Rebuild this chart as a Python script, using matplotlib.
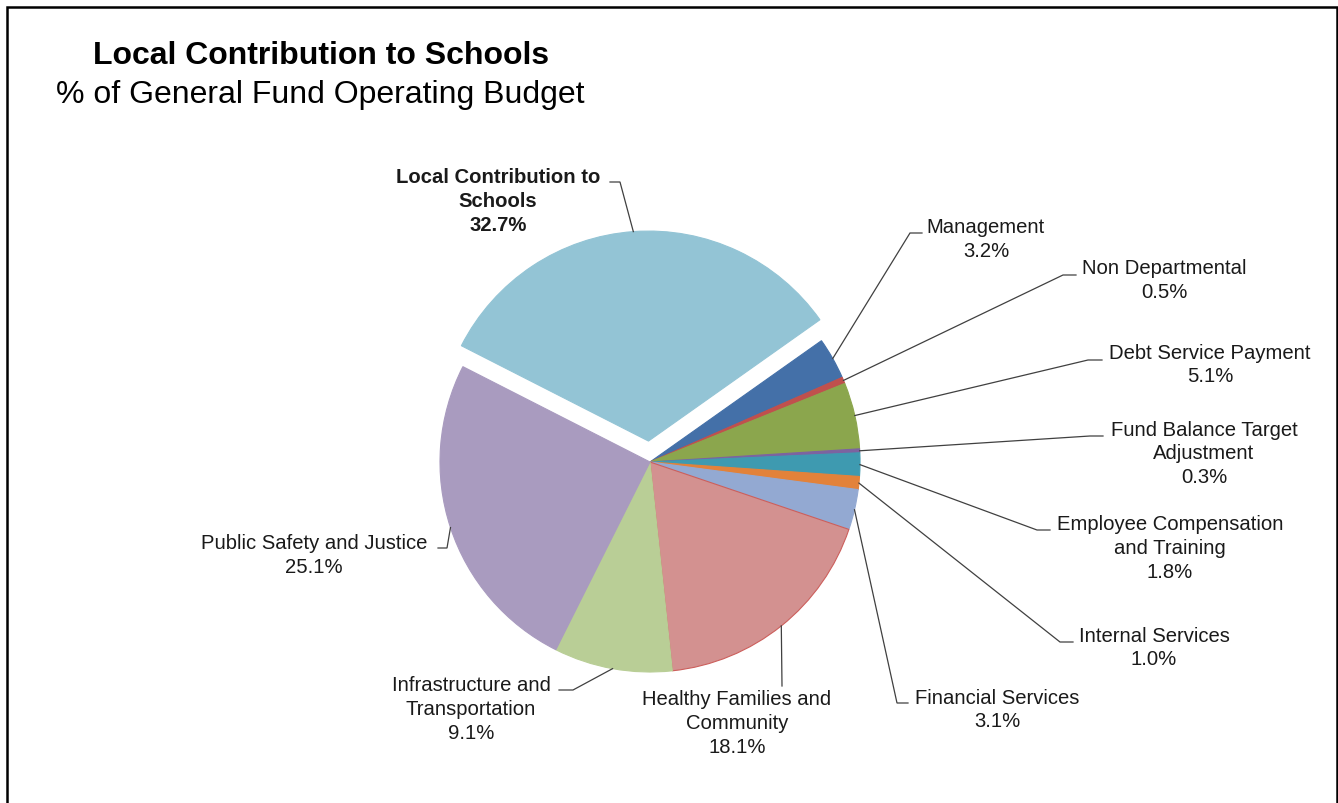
import numpy as np
import matplotlib
matplotlib.use("Agg")
import matplotlib.pyplot as plt

# ---- data ----
categories = ["Local Contribution to Schools", "Management", "Non Departmental",
              "Debt Service Payment", "Fund Balance Target Adjustment",
              "Employee Compensation and Training", "Internal Services",
              "Financial Services", "Healthy Families and Community",
              "Infrastructure and Transportation", "Public Safety and Justice"]
values = [32.7, 3.2, 0.5, 5.1, 0.3, 1.8, 1.0, 3.1, 18.1, 9.1, 25.1]
label_texts = ["Local Contribution to\nSchools", "Management", "Non Departmental",
               "Debt Service Payment", "Fund Balance Target\nAdjustment",
               "Employee Compensation\nand Training", "Internal Services",
               "Financial Services", "Healthy Families and\nCommunity",
               "Infrastructure and\nTransportation", "Public Safety and Justice"]
colors = ["#93C4D5", "#4470A8", "#C0504D", "#8BA64D", "#7C63A0", "#3E9AB0",
          "#E2823A", "#93A9D2", "#D39190", "#B9CE96", "#A99BBF"]
edgecolors = ["#93C4D5", "#4470A8", "#C0504D", "#8BA64D", "#7C63A0", "#3E9AB0",
              "#E2823A", "#93A9D2", "#CC5F5C", "#B9CE96", "#A99BBF"]
explode_frac = [0.1, 0, 0, 0, 0, 0, 0, 0, 0, 0, 0]

# ---- layout (pixel coords, y measured from top) ----
W, H = 1338, 804
CX, CY, R = 650, 463, 210
label_pos = [(498, 201.5), (986, 239.5), (1164, 280.5), (1210, 365), (1204, 454),
             (1170, 548.5), (1154, 648), (997, 710), (737, 723.5), (471, 709.5), (314, 555.5)]
anchors = [(610, 183), (922, 234), (1076, 276), (1102, 361), (1103, 437),
           (1050, 531), (1073, 643), (908, 704), (782, 687), (559, 691), (438, 549)]
elbows = [(620, 183), (910, 234), (1063, 276), (1088, 361), (1090, 437),
          (1037, 531), (1060, 643), (897, 704), (782, 687), (573, 691), (447, 549)]

def Y(py):
    return H - py

fig = plt.figure(figsize=(W / 100, H / 100), dpi=100)
ax = fig.add_axes([0, 0, 1, 1])

wedges, _ = ax.pie(values, colors=colors, explode=[e * R for e in explode_frac],
                   startangle=153, counterclock=False, center=(CX, Y(CY)), radius=R,
                   wedgeprops=dict(linewidth=0.8))
for w, ec in zip(wedges, edgecolors):
    w.set_edgecolor(ec)

ax.set_xlim(0, W)
ax.set_ylim(0, H)
ax.set_aspect("equal")
ax.axis("off")

txtcol = "#1a1a1a"
linecol = "#404040"
for i, (w, v) in enumerate(zip(wedges, values)):
    mid = np.deg2rad((w.theta1 + w.theta2) / 2)
    cx, cy = w.center
    rx = cx + R * np.cos(mid)
    ry = cy + R * np.sin(mid)
    ax_, ay_ = anchors[i]
    ex_, ey_ = elbows[i]
    ax.plot([ax_, ex_, rx], [Y(ay_), Y(ey_), ry], color=linecol, lw=0.9,
            solid_joinstyle="miter")
    lx, ly = label_pos[i]
    bold = (i == 0)
    ax.text(lx, Y(ly), f"{label_texts[i]}\n{v:.1f}%", ha="center", va="center",
            multialignment="center", fontsize=14.6, family="Liberation Sans",
            fontweight="bold" if bold else "normal", color=txtcol, linespacing=1.33)

ax.text(321, Y(56), "Local Contribution to Schools", ha="center", va="center",
        fontsize=23, fontweight="bold", family="Liberation Sans", color="#000000")
ax.text(320, Y(95), "% of General Fund Operating Budget", ha="center", va="center",
        fontsize=23, family="Liberation Sans", color="#000000")

# chart border
ax.plot([6.5, 6.5, 1336.5, 1336.5], [0, Y(8), Y(8), 0], color="#000000", lw=1.8,
        clip_on=False, solid_joinstyle="miter")

fig.savefig("out.png", dpi=100, facecolor="white")
